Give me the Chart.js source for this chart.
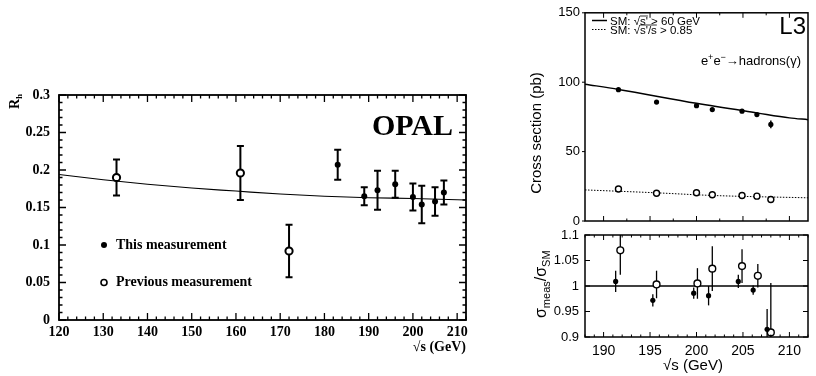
<!DOCTYPE html>
<html><head><meta charset="utf-8">
<script src="https://cdn.jsdelivr.net/npm/chart.js@4/dist/chart.umd.min.js"></script>
<style>
html,body{margin:0;padding:0;background:#fff;}
#wrap{position:relative;width:816px;height:376px;overflow:hidden;background:#fff;}
canvas{position:absolute;left:0;top:0;}
</style></head><body>
<div id="wrap">
<canvas id="opal" width="816" height="376"></canvas>
<canvas id="l3top" width="816" height="376"></canvas>
<canvas id="l3bot" width="816" height="376"></canvas>
</div>
<script>
// ---------- OPAL: R_h vs sqrt(s) ----------
const opalSmX = [120, 130, 140, 150, 160, 170, 180, 190, 200, 212];
const opalSmY = [0.194, 0.187, 0.181, 0.176, 0.172, 0.168, 0.165, 0.163, 0.162, 0.160];
const opalThisX = [183, 189, 192, 196, 200, 202, 205, 207];
const opalThisY = [0.207, 0.165, 0.173, 0.181, 0.164, 0.154, 0.158, 0.170];
const opalThisErr = [0.020, 0.012, 0.026, 0.018, 0.018, 0.025, 0.019, 0.016];
const opalPrevX = [133, 161, 172];
const opalPrevY = [0.190, 0.196, 0.092];
const opalPrevErr = [0.024, 0.036, 0.035];

// ---------- L3: cross sections ----------
const l3X = [191.6, 195.7, 200.0, 201.7, 204.9, 206.5, 208.0];
const l3Sigma60 = [94.6, 85.7, 83.1, 80.3, 79.1, 76.7, 69.6];
const l3Sigma60Err = [0.8, 0.8, 0.8, 0.8, 0.8, 0.8, 2.8];
const l3Sigma085 = [23.1, 20.0, 20.3, 18.9, 18.4, 17.9, 15.5];
const l3SmX60 = [188, 191.6, 200, 206.5, 210, 212];
const l3SmY60 = [98.6, 94.8, 84.8, 77.9, 74.3, 73.0];
const l3SmX085 = [188, 195.7, 201.7, 212];
const l3SmY085 = [22.4, 20.3, 18.4, 16.7];

// ---------- L3: ratio measured / SM ----------
const l3RatioX60 = [191.3, 195.3, 199.7, 201.3, 204.5, 206.1, 207.6];
const l3Ratio60 = [1.009, 0.972, 0.986, 0.981, 1.009, 0.992, 0.915];
const l3Ratio60Err = [0.021, 0.012, 0.011, 0.019, 0.013, 0.009, 0.040];
const l3RatioX085 = [191.8, 195.7, 200.1, 201.7, 204.9, 206.6, 208.0];
const l3Ratio085 = [1.070, 1.003, 1.005, 1.034, 1.039, 1.020, 0.909];
const l3Ratio085Err = [0.048, 0.027, 0.030, 0.044, 0.033, 0.023, 0.097];
const l3RefX = [188, 212];
const l3RefY = [1, 1];

function pts(xs, ys) { return xs.map((x, i) => ({ x: x, y: ys[i] })); }

const SERIF = '"Liberation Serif", "Times New Roman", serif';
const SANS = '"Liberation Sans", Arial, sans-serif';

const errorBars = {
  id: 'errorBars',
  beforeDatasetsDraw(chart) {
    const { ctx, chartArea: a } = chart;
    const sx = chart.scales.x, sy = chart.scales.y;
    ctx.save();
    ctx.beginPath(); ctx.rect(a.left, a.top, a.right - a.left, a.bottom - a.top); ctx.clip();
    chart.data.datasets.forEach(ds => {
      if (!ds.errors) return;
      ctx.strokeStyle = ds.errColor || '#000';
      ctx.lineWidth = ds.errWidth || 1;
      ds.data.forEach((p, j) => {
        const e = ds.errors[j];
        const px = sx.getPixelForValue(p.x);
        const y1 = sy.getPixelForValue(p.y + e), y2 = sy.getPixelForValue(p.y - e);
        ctx.beginPath();
        ctx.moveTo(px, y1); ctx.lineTo(px, y2);
        if (ds.capHalf) {
          ctx.moveTo(px - ds.capHalf, y1); ctx.lineTo(px + ds.capHalf, y1);
          ctx.moveTo(px - ds.capHalf, y2); ctx.lineTo(px + ds.capHalf, y2);
        }
        ctx.stroke();
      });
    });
    ctx.restore();
  }
};

function isMult(v, m) { return Math.abs(v / m - Math.round(v / m)) < 1e-6; }

function innerTicks(chart, o) {
  const { ctx, chartArea: a } = chart;
  const sx = chart.scales.x, sy = chart.scales.y;
  ctx.save();
  ctx.strokeStyle = '#000'; ctx.lineWidth = o.lw;
  ctx.beginPath();
  if (o.xStep) {
    const n = Math.round((o.xTo - o.xFrom) / o.xStep);
    for (let i = 0; i <= n; i++) {
      const v = o.xFrom + i * o.xStep;
      const L = isMult(v, o.xMajor) ? o.majL : o.minL;
      const px = sx.getPixelForValue(v);
      if (o.bottom) { ctx.moveTo(px, a.bottom); ctx.lineTo(px, a.bottom - L); }
      if (o.top) { ctx.moveTo(px, a.top); ctx.lineTo(px, a.top + L); }
    }
  }
  if (o.yStep) {
    const n = Math.round((o.yTo - o.yFrom) / o.yStep);
    for (let i = 0; i <= n; i++) {
      const v = o.yFrom + i * o.yStep;
      const L = isMult(v, o.yMajor) ? o.majL : o.minL;
      const py = sy.getPixelForValue(v);
      if (o.left) { ctx.moveTo(a.left, py); ctx.lineTo(a.left + L, py); }
      if (o.right) { ctx.moveTo(a.right, py); ctx.lineTo(a.right - L, py); }
      if (o.outLeft) { ctx.moveTo(a.left, py); ctx.lineTo(a.left - o.outLeft, py); }
    }
  }
  ctx.stroke();
  ctx.restore();
}

function frame(chart, lw) {
  const { ctx, chartArea: a } = chart;
  ctx.save(); ctx.strokeStyle = '#000'; ctx.lineWidth = lw;
  ctx.strokeRect(a.left, a.top, a.right - a.left, a.bottom - a.top);
  ctx.restore();
}

const baseOpts = {
  responsive: false, animation: false, devicePixelRatio: 1,
  plugins: { legend: { display: false }, tooltip: { enabled: false } }
};

// ================= OPAL =================
const opalDecor = {
  id: 'opalDecor',
  afterDraw(chart) {
    const { ctx, chartArea: a } = chart;
    const sy = chart.scales.y;
    frame(chart, 1.8);
    innerTicks(chart, { lw: 1.3, majL: 7, minL: 3.5,
      xFrom: 120, xTo: 212, xStep: 2, xMajor: 10, bottom: true, top: true,
      yFrom: 0, yTo: 0.3, yStep: 0.01, yMajor: 0.05, left: true, right: true });
    ctx.save();
    ctx.fillStyle = '#000';
    ctx.font = 'bold 30px ' + SERIF; ctx.textAlign = 'right'; ctx.textBaseline = 'alphabetic';
    ctx.fillText('OPAL', 453, 135);
    ctx.font = 'bold 14px ' + SERIF;
    ctx.fillText('√s (GeV)', a.right, 351);
    // legend
    ctx.textAlign = 'left'; ctx.textBaseline = 'middle';
    const yA = sy.getPixelForValue(0.1), yB = sy.getPixelForValue(0.05);
    ctx.fillText('This measurement', 116, yA);
    ctx.fillText('Previous measurement', 116, yB);
    ctx.beginPath(); ctx.arc(104, yA, 3, 0, Math.PI * 2); ctx.fill();
    ctx.lineWidth = 1.6; ctx.strokeStyle = '#000';
    ctx.beginPath(); ctx.arc(104, yB, 3, 0, Math.PI * 2); ctx.stroke();
    // R_h title
    ctx.translate(19, 109); ctx.rotate(-Math.PI / 2);
    ctx.textBaseline = 'alphabetic';
    ctx.font = 'bold 14px ' + SERIF; ctx.fillText('R', 0, 0);
    const w = ctx.measureText('R').width;
    ctx.font = 'bold 9px ' + SERIF; ctx.fillText('h', w, 3);
    ctx.restore();
  }
};

new Chart(document.getElementById('opal'), {
  type: 'scatter',
  data: {
    datasets: [
      { label: 'This measurement', data: pts(opalThisX, opalThisY), errors: opalThisErr,
        errWidth: 2, capHalf: 3.5, pointRadius: 3, pointBackgroundColor: '#000',
        pointBorderColor: '#000', pointBorderWidth: 0, showLine: false },
      { label: 'Previous measurement', data: pts(opalPrevX, opalPrevY), errors: opalPrevErr,
        errWidth: 2, capHalf: 3.5, pointRadius: 3.6, pointBackgroundColor: '#fff',
        pointBorderColor: '#000', pointBorderWidth: 2, showLine: false },
      { label: 'SM', data: pts(opalSmX, opalSmY), showLine: true, pointRadius: 0,
        borderColor: '#000', borderWidth: 1.2, cubicInterpolationMode: 'monotone', fill: false }
    ]
  },
  options: Object.assign({}, baseOpts, {
    layout: { padding: { left: 9, right: 350, top: 95, bottom: 16 } },
    scales: {
      x: { type: 'linear', min: 120, max: 212,
        afterFit: s => { s.height = 40; },
        grid: { display: false, drawTicks: false }, border: { display: false },
        ticks: { stepSize: 10, includeBounds: false, padding: 4, color: '#000', maxRotation: 0, autoSkip: false,
          font: { family: SERIF, weight: 'bold', size: 14 } } },
      y: { type: 'linear', min: 0, max: 0.3,
        afterFit: s => { s.width = 50; },
        grid: { display: false, drawTicks: false }, border: { display: false },
        ticks: { stepSize: 0.05, includeBounds: false, padding: 9, color: '#000',
          callback: v => String(+v.toFixed(2)),
          font: { family: SERIF, weight: 'bold', size: 14 } } }
    }
  }),
  plugins: [errorBars, opalDecor]
});

// ================= L3 top =================
function drawOverlinedText(ctx, pre, under, post, x, y, h) {
  ctx.fillText(pre + under + post, x, y);
  const x0 = x + ctx.measureText(pre).width;
  const x1 = x + ctx.measureText(pre + under).width;
  ctx.beginPath(); ctx.lineWidth = 0.8;
  ctx.moveTo(x0, y - h); ctx.lineTo(x1, y - h); ctx.stroke();
}

const l3TopDecor = {
  id: 'l3TopDecor',
  afterDraw(chart) {
    const { ctx, chartArea: a } = chart;
    frame(chart, 1.5);
    innerTicks(chart, { lw: 1, majL: 5, minL: 2.5,
      xFrom: 190, xTo: 210, xStep: 2.5, xMajor: 5, bottom: true, top: true,
      yFrom: 0, yTo: 150, yStep: 50, yMajor: 50, left: false, outLeft: 3 });
    ctx.save();
    ctx.fillStyle = '#000'; ctx.strokeStyle = '#000';
    // L3 label
    ctx.font = '24px ' + SANS; ctx.textAlign = 'right'; ctx.textBaseline = 'alphabetic';
    ctx.fillText('L3', 806, 34);
    // process label
    ctx.textAlign = 'left';
    const big = '13px ' + SANS, small = '9px ' + SANS;
    const parts = [['e', big, 0], ['+', small, -5], ['e', big, 0], ['−', small, -5], ['→hadrons(γ)', big, 0]];
    let tw = 0;
    parts.forEach(p => { ctx.font = p[1]; tw += ctx.measureText(p[0]).width; });
    let x = 801 - tw;
    parts.forEach(p => { ctx.font = p[1]; ctx.fillText(p[0], x, 65 + p[2]); x += ctx.measureText(p[0]).width; });
    // legend
    ctx.lineWidth = 1.5;
    ctx.beginPath(); ctx.moveTo(592, 20.5); ctx.lineTo(607, 20.5); ctx.stroke();
    ctx.lineWidth = 1; ctx.setLineDash([1.5, 1.5]);
    ctx.beginPath(); ctx.moveTo(592, 29.5); ctx.lineTo(607, 29.5); ctx.stroke();
    ctx.setLineDash([]);
    ctx.font = '11.5px ' + SANS;
    drawOverlinedText(ctx, 'SM: √', "s'", ' > 60 GeV', 610, 24.5, 8.5);
    drawOverlinedText(ctx, 'SM: √', "s'/s", ' > 0.85', 610, 33.5, 8.5);
    // y title
    ctx.translate(541, 133); ctx.rotate(-Math.PI / 2);
    ctx.textAlign = 'center'; ctx.font = '15px ' + SANS;
    ctx.fillText('Cross section (pb)', 0, 0);
    ctx.restore();
  }
};

new Chart(document.getElementById('l3top'), {
  type: 'scatter',
  data: {
    datasets: [
      { label: 'σ (√s′ > 60 GeV)', data: pts(l3X, l3Sigma60), errors: l3Sigma60Err, errWidth: 1.5,
        pointRadius: 2.6, pointBackgroundColor: '#000', pointBorderColor: '#000', pointBorderWidth: 0, showLine: false },
      { label: 'σ (√(s′/s) > 0.85)', data: pts(l3X, l3Sigma085),
        pointRadius: 3, pointBackgroundColor: '#fff', pointBorderColor: '#000', pointBorderWidth: 1.4, showLine: false },
      { label: 'SM: √s′ > 60 GeV', data: pts(l3SmX60, l3SmY60), showLine: true, pointRadius: 0,
        borderColor: '#000', borderWidth: 1.5, cubicInterpolationMode: 'monotone', fill: false },
      { label: 'SM: √(s′/s) > 0.85', data: pts(l3SmX085, l3SmY085), showLine: true, pointRadius: 0,
        borderColor: '#000', borderWidth: 1, borderDash: [1.5, 1.5], cubicInterpolationMode: 'monotone', fill: false }
    ]
  },
  options: Object.assign({}, baseOpts, {
    layout: { padding: { left: 545, right: 8, top: 11, bottom: 155 } },
    scales: {
      x: { type: 'linear', min: 188, max: 212, display: false },
      y: { type: 'linear', min: 0, max: 150,
        afterFit: s => { s.width = 40; },
        grid: { display: false, drawTicks: false }, border: { display: false },
        ticks: { stepSize: 50, padding: 5, color: '#000', font: { family: SANS, size: 13 } } }
    }
  }),
  plugins: [errorBars, l3TopDecor]
});

// ================= L3 bottom =================
const l3BotDecor = {
  id: 'l3BotDecor',
  afterDraw(chart) {
    const { ctx, chartArea: a } = chart;
    frame(chart, 1.5);
    innerTicks(chart, { lw: 1, majL: 5, minL: 2.5,
      xFrom: 188, xTo: 212, xStep: 1, xMajor: 5, bottom: true, top: true,
      yFrom: 0.9, yTo: 1.1, yStep: 0.05, yMajor: 0.05, left: true, right: true });
    ctx.save();
    ctx.fillStyle = '#000';
    ctx.font = '15px ' + SANS; ctx.textAlign = 'center'; ctx.textBaseline = 'alphabetic';
    ctx.fillText('√s (GeV)', 693, 370);
    // y title sigma_meas / sigma_SM
    ctx.translate(546, 318); ctx.rotate(-Math.PI / 2);
    ctx.textAlign = 'left';
    const big = '16px ' + SANS, small = '11px ' + SANS;
    const parts = [['σ', big, 0], ['meas', small, 4], ['/', big, 0], ['σ', big, 0], ['SM', small, 4]];
    let x = 0;
    parts.forEach(p => { ctx.font = p[1]; ctx.fillText(p[0], x, p[2]); x += ctx.measureText(p[0]).width; });
    ctx.restore();
  }
};

new Chart(document.getElementById('l3bot'), {
  type: 'scatter',
  data: {
    datasets: [
      { label: 'ratio √s′ > 60 GeV', data: pts(l3RatioX60, l3Ratio60), errors: l3Ratio60Err, errWidth: 1.3,
        pointRadius: 2.6, pointBackgroundColor: '#000', pointBorderColor: '#000', pointBorderWidth: 0, showLine: false },
      { label: 'ratio √(s′/s) > 0.85', data: pts(l3RatioX085, l3Ratio085), errors: l3Ratio085Err, errWidth: 1.3,
        pointRadius: 3.4, pointBackgroundColor: '#fff', pointBorderColor: '#000', pointBorderWidth: 1.4, showLine: false },
      { label: 'unity', data: pts(l3RefX, l3RefY), showLine: true, pointRadius: 0,
        borderColor: '#000', borderWidth: 1.3, fill: false }
    ]
  },
  options: Object.assign({}, baseOpts, {
    layout: { padding: { left: 540, right: 8, top: 235, bottom: 17 } },
    scales: {
      x: { type: 'linear', min: 188, max: 212,
        afterFit: s => { s.height = 22; },
        grid: { display: false, drawTicks: false }, border: { display: false },
        ticks: { stepSize: 5, includeBounds: false, padding: 6, color: '#000', maxRotation: 0, autoSkip: false,
          font: { family: SANS, size: 14 } } },
      y: { type: 'linear', min: 0.9, max: 1.1,
        afterFit: s => { s.width = 45; },
        grid: { display: false, drawTicks: false }, border: { display: false },
        ticks: { stepSize: 0.05, includeBounds: false, padding: 6, color: '#000',
          callback: v => String(+v.toFixed(2)),
          font: { family: SANS, size: 13 } } }
    }
  }),
  plugins: [errorBars, l3BotDecor]
});
</script>
</body></html>
